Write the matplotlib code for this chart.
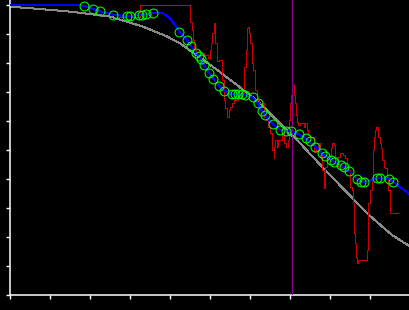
import matplotlib
matplotlib.use("Agg")
import matplotlib.pyplot as plt

# Smooth reference curve (gray)
gray_x = [0.0, 0.74, 1.49, 2.49, 3.32, 3.92, 4.24, 4.74, 5.24, 5.74, 6.24, 6.74,
          7.24, 7.87, 8.37, 8.94, 9.54, 10.0]
gray_y = [0.995, 0.987, 0.978, 0.961, 0.926, 0.892, 0.869, 0.820, 0.770, 0.717, 0.663, 0.592,
          0.525, 0.432, 0.361, 0.280, 0.208, 0.168]

# Green sample points
pts_x = [1.85, 2.075, 2.25, 2.575, 2.92, 2.99, 3.205, 3.28, 3.40, 3.555,
         4.225, 4.41, 4.51, 4.65, 4.705, 4.77, 4.84, 4.975, 5.075, 5.225,
         5.34, 5.535, 5.62, 5.70, 5.785, 5.87, 6.055, 6.18, 6.29, 6.355,
         6.57, 6.74, 6.89, 7.005, 7.225, 7.38, 7.48, 7.62, 7.78, 7.87,
         8.025, 8.08, 8.255, 8.34, 8.47, 8.675, 8.77, 8.84, 9.17, 9.23,
         9.47, 9.555]
pts_y = [0.998, 0.986, 0.979, 0.967, 0.962, 0.963, 0.966, 0.967, 0.969, 0.972,
         0.909, 0.880, 0.861, 0.835, 0.825, 0.815, 0.794, 0.766, 0.746, 0.722,
         0.706, 0.693, 0.693, 0.693, 0.693, 0.691, 0.682, 0.663, 0.636, 0.623,
         0.589, 0.570, 0.567, 0.566, 0.555, 0.541, 0.531, 0.512, 0.491, 0.480,
         0.466, 0.461, 0.449, 0.441, 0.428, 0.400, 0.391, 0.390, 0.405, 0.406,
         0.401, 0.392]

# Blue fitted line
blue_x = [0.0, 1.69, 1.85, 2.075, 2.25, 2.575, 2.92, 3.205, 3.40, 3.555, 3.67, 3.82,
          3.99, 4.12, 4.225, 4.41, 4.51, 4.65, 4.77, 4.84, 4.975, 5.075, 5.225, 5.34,
          5.535, 5.87, 6.055, 6.18, 6.29, 6.355, 6.57, 6.74, 6.89, 7.005, 7.225, 7.38,
          7.48, 7.62, 7.78, 7.87, 8.025, 8.08, 8.255, 8.34, 8.47, 8.675, 8.77, 8.84,
          9.17, 9.23, 9.47, 9.555, 10.0]
blue_y = [1.0, 1.0, 0.998, 0.986, 0.979, 0.967, 0.962, 0.966, 0.969, 0.972, 0.974, 0.972,
          0.955, 0.932, 0.909, 0.880, 0.861, 0.835, 0.815, 0.794, 0.766, 0.746, 0.722, 0.706,
          0.693, 0.691, 0.682, 0.663, 0.636, 0.623, 0.589, 0.570, 0.567, 0.566, 0.555, 0.541,
          0.531, 0.512, 0.491, 0.480, 0.466, 0.461, 0.449, 0.441, 0.428, 0.400, 0.391, 0.390,
          0.405, 0.406, 0.401, 0.392, 0.348]

# Red noisy measured series (step)
red_x = [2.62, 2.89, 3.02, 3.24, 4.49, 4.54, 4.57, 4.59, 4.64, 4.74, 4.84, 4.94,
         4.99, 5.02, 5.05, 5.08, 5.12, 5.16, 5.22, 5.29, 5.33, 5.37, 5.41, 5.46,
         5.49, 5.54, 5.59, 5.69, 5.79, 5.83, 5.85, 5.89, 5.91, 5.95, 5.97, 5.99,
         6.04, 6.07, 6.12, 6.16, 6.22, 6.33, 6.39, 6.45, 6.49, 6.54, 6.58, 6.59,
         6.62, 6.66, 6.69, 6.79, 6.84, 6.89, 6.94, 6.97, 6.99, 7.02, 7.04, 7.08,
         7.12, 7.14, 7.16, 7.20, 7.24, 7.33, 7.37, 7.41, 7.45, 7.49, 7.58, 7.64,
         7.70, 7.74, 7.79, 7.83, 7.84, 7.87, 7.91, 7.94, 7.99, 8.02, 8.05, 8.08,
         8.12, 8.16, 8.20, 8.24, 8.29, 8.32, 8.37, 8.41, 8.44, 8.49, 8.54, 8.56,
         8.58, 8.60, 8.62, 8.64, 8.66, 8.68, 8.89, 8.91, 8.93, 8.95, 8.99, 9.04,
         9.06, 9.09, 9.12, 9.14, 9.18, 9.20, 9.24, 9.27, 9.29, 9.33, 9.37, 9.41,
         9.45, 9.48, 9.68]
red_y = [0.959, 0.951, 0.960, 1.001, 0.943, 0.915, 0.880, 0.846, 0.839, 0.836, 0.829, 0.818,
         0.846, 0.870, 0.905, 0.938, 0.870, 0.806, 0.811, 0.742, 0.673, 0.646, 0.616, 0.639,
         0.650, 0.663, 0.673, 0.680, 0.698, 0.731, 0.788, 0.846, 0.921, 0.926, 0.905, 0.870,
         0.800, 0.777, 0.708, 0.673, 0.663, 0.616, 0.605, 0.581, 0.560, 0.501, 0.472, 0.511,
         0.536, 0.512, 0.536, 0.559, 0.525, 0.512, 0.536, 0.605, 0.662, 0.691, 0.725, 0.691,
         0.662, 0.622, 0.599, 0.587, 0.593, 0.581, 0.593, 0.570, 0.553, 0.547, 0.495, 0.511,
         0.524, 0.490, 0.432, 0.409, 0.370, 0.443, 0.467, 0.473, 0.478, 0.507, 0.524, 0.518,
         0.478, 0.443, 0.478, 0.490, 0.490, 0.484, 0.473, 0.443, 0.432, 0.375, 0.363, 0.317,
         0.248, 0.214, 0.180, 0.133, 0.110, 0.122, 0.122, 0.156, 0.260, 0.317, 0.363, 0.409,
         0.501, 0.547, 0.570, 0.581, 0.577, 0.547, 0.524, 0.508, 0.467, 0.443, 0.439, 0.409,
         0.363, 0.283, 0.283]

marker_x = 7.05

x_ticks = [0, 1, 2, 3, 4, 5, 6, 7, 8, 9, 10]
y_ticks = [0.0, 0.1, 0.2, 0.3, 0.4, 0.5, 0.6, 0.7, 0.8, 0.9, 1.0]

fig = plt.figure(figsize=(4.1, 3.1), dpi=100, facecolor="black")
ax = fig.add_axes([10.3 / 410, 14.7 / 310, 400 / 410, 295.3 / 310])
ax.set_facecolor("black")

LW = 0.72
ax.plot(gray_x, gray_y, color="#8a8a8a", lw=LW, antialiased=False, zorder=1)
ax.plot(red_x, red_y, color="#cc0000", lw=LW, drawstyle="steps-post", antialiased=False, zorder=2)
ax.axvline(marker_x, color="#8c008c", lw=LW, antialiased=False, zorder=3)
ax.plot(blue_x, blue_y, color="#0000ff", lw=LW, antialiased=False, zorder=4)
ax.plot(pts_x, pts_y, linestyle="none", marker="o", markersize=6.4,
        markerfacecolor="none", markeredgecolor="#00ff00", markeredgewidth=0.75, zorder=5)

ax.set_xlim(0, 10)
ax.set_ylim(0, 1.018)
ax.set_xticks(x_ticks)
ax.set_yticks(y_ticks)
ax.set_xticklabels([])
ax.set_yticklabels([])
for s in ["top", "right"]:
    ax.spines[s].set_visible(False)
for s in ["left", "bottom"]:
    ax.spines[s].set_color("white")
    ax.spines[s].set_linewidth(1.1)
ax.tick_params(colors="white", length=2.6, width=1.0, direction="out")

fig.savefig("out.png", dpi=100, facecolor="black")
